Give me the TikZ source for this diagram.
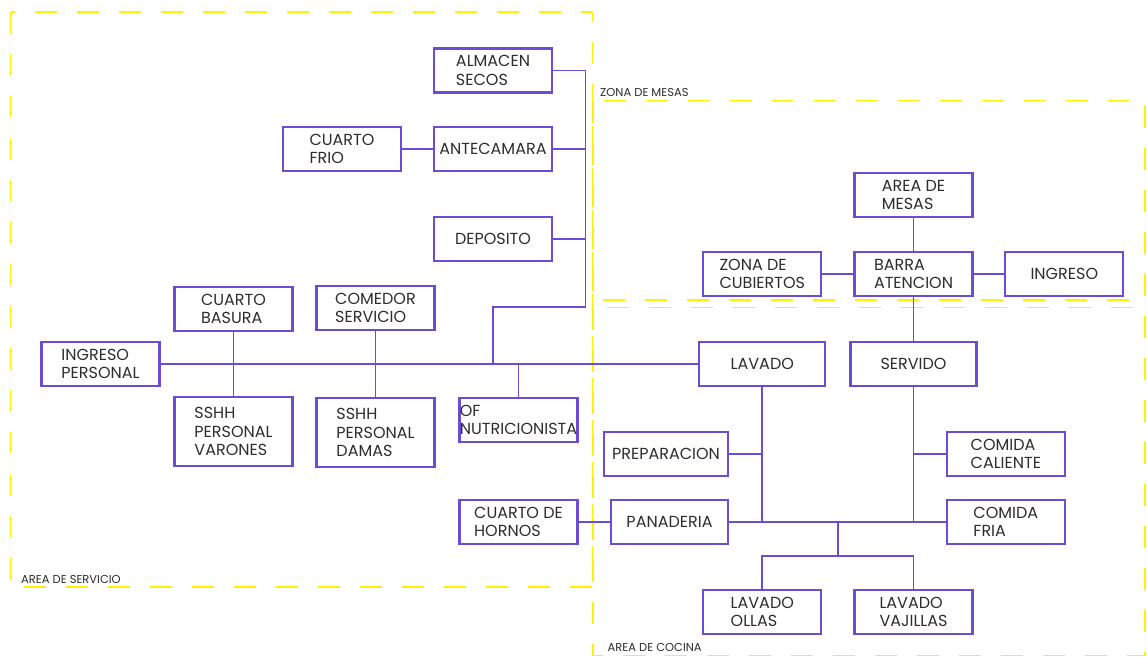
\documentclass[tikz,border=0pt]{standalone}
\usepackage{fontspec}
\setmainfont{Poppins}
\definecolor{linkpurple}{RGB}{108,76,214}
\definecolor{zoneyellow}{RGB}{255,242,0}
\definecolor{txtgray}{RGB}{45,45,45}
\begin{document}
\begin{tikzpicture}[x=1pt,y=-1pt,
  room/.style={draw=linkpurple, line width=2.2pt, align=left, inner sep=0pt,
    minimum width=118pt, minimum height=44pt, text=txtgray,
    font=\fontsize{16}{18.5}\selectfont},
  link/.style={draw=linkpurple, line width=1.8pt},
  zone/.style={draw=zoneyellow, line width=1.8pt, dash pattern=on 22pt off 20pt},
  zonelabel/.style={anchor=base west, inner sep=0pt, text=txtgray,
    font=\fontsize{11.5}{13}\selectfont}]
\useasboundingbox (0,0) rectangle (1147,659);

% zones
\draw[zone] (10.5,12) rectangle (592.5,587);
\draw[zone] (592.7,100.5) rectangle (1145,300);
\draw[zone] (592.7,307.5) rectangle (1145,655.5);
\node[zonelabel] (lserv) at (21,583) {AREA DE SERVICIO};
\node[zonelabel] (lmesas) at (600,96) {ZONA DE MESAS};
\node[zonelabel] (lcoc) at (607.5,651) {AREA DE COCINA};

% storage wing
\node[room] (alm) at (493,70.5) {ALMACEN\\SECOS};
\node[room] (frio) at (342,149) {CUARTO\\FRIO};
\node[room] (ante) at (493,149) {ANTECAMARA};
\node[room] (dep) at (493,239) {DEPOSITO};

% staff wing
\node[room] (basura) at (233.5,309) {CUARTO\\BASURA};
\node[room] (comedor) at (375.5,308) {COMEDOR\\SERVICIO};
\node[room] (ip) at (100.5,364) {INGRESO\\PERSONAL};
\node[room, minimum height=69pt] (sshhv) at (233.5,431.5) {SSHH\\PERSONAL\\VARONES};
\node[room, minimum height=69pt] (sshhd) at (375.5,432.5) {SSHH\\PERSONAL\\DAMAS};
\node[room] (ofn) at (518.5,420) {OF\\NUTRICIONISTA};
\node[room] (hornos) at (518.5,522) {CUARTO DE\\HORNOS};

% dining zone
\node[room] (amesas) at (913.5,195) {AREA DE\\MESAS};
\node[room] (zcub) at (762.3,274) {ZONA DE\\CUBIERTOS};
\node[room] (barra) at (913.5,274) {BARRA\\ATENCION};
\node[room] (ingreso) at (1064.3,274) {INGRESO};

% kitchen
\node[room, minimum width=126pt] (lav) at (762.3,364) {LAVADO};
\node[room, minimum width=126pt] (serv) at (913.5,364) {SERVIDO};
\node[room, minimum width=124pt] (prep) at (666,454) {PREPARACION};
\node[room, minimum width=117pt] (pan) at (669.5,522) {PANADERIA};
\node[room] (ccal) at (1005.8,454) {COMIDA\\CALIENTE};
\node[room] (cfria) at (1005.8,522) {COMIDA\\FRIA};
\node[room] (ollas) at (762.3,612) {LAVADO\\OLLAS};
\node[room] (vaj) at (913.5,612) {LAVADO\\VAJILLAS};

% junctions
\coordinate (j1) at (585.5,307);
\coordinate (j2) at (493,364);
\coordinate (k1) at (762.3,522);
\coordinate (k2) at (913.5,522);
\coordinate (k3) at (838,522);
\coordinate (k4) at (838,556);

% storage links
\draw[link] (alm.east) -| (j1) -| (j2);
\draw[link] (frio) -- (ante);
\draw[link] (ante.east) -- (ante.east -| j1);
\draw[link] (dep.east) -- (dep.east -| j1);

% main corridor
\draw[link] (ip.east) -- (lav.west);
\draw[link] (basura) -- (sshhv);
\draw[link] (comedor) -- (sshhd);
\draw[link] (ofn.north) -- (ofn.north |- j2);

% dining links
\draw[link] (amesas) -- (barra);
\draw[link] (zcub) -- (barra);
\draw[link] (barra) -- (ingreso);
\draw[link] (barra) -- (serv);

% kitchen links
\draw[link] (lav.south) -- (k1);
\draw[link] (serv.south) -- (k2);
\draw[link] (pan.east) -- (cfria.west);
\draw[link] (prep.east) -- (prep.east -| k1);
\draw[link] (ccal.west) -- (ccal.west -| k2);
\draw[link] (hornos) -- (pan);
\draw[link] (k3) -- (k4);
\draw[link] (ollas.north) |- (k4) -| (vaj.north);
\end{tikzpicture}
\end{document}
